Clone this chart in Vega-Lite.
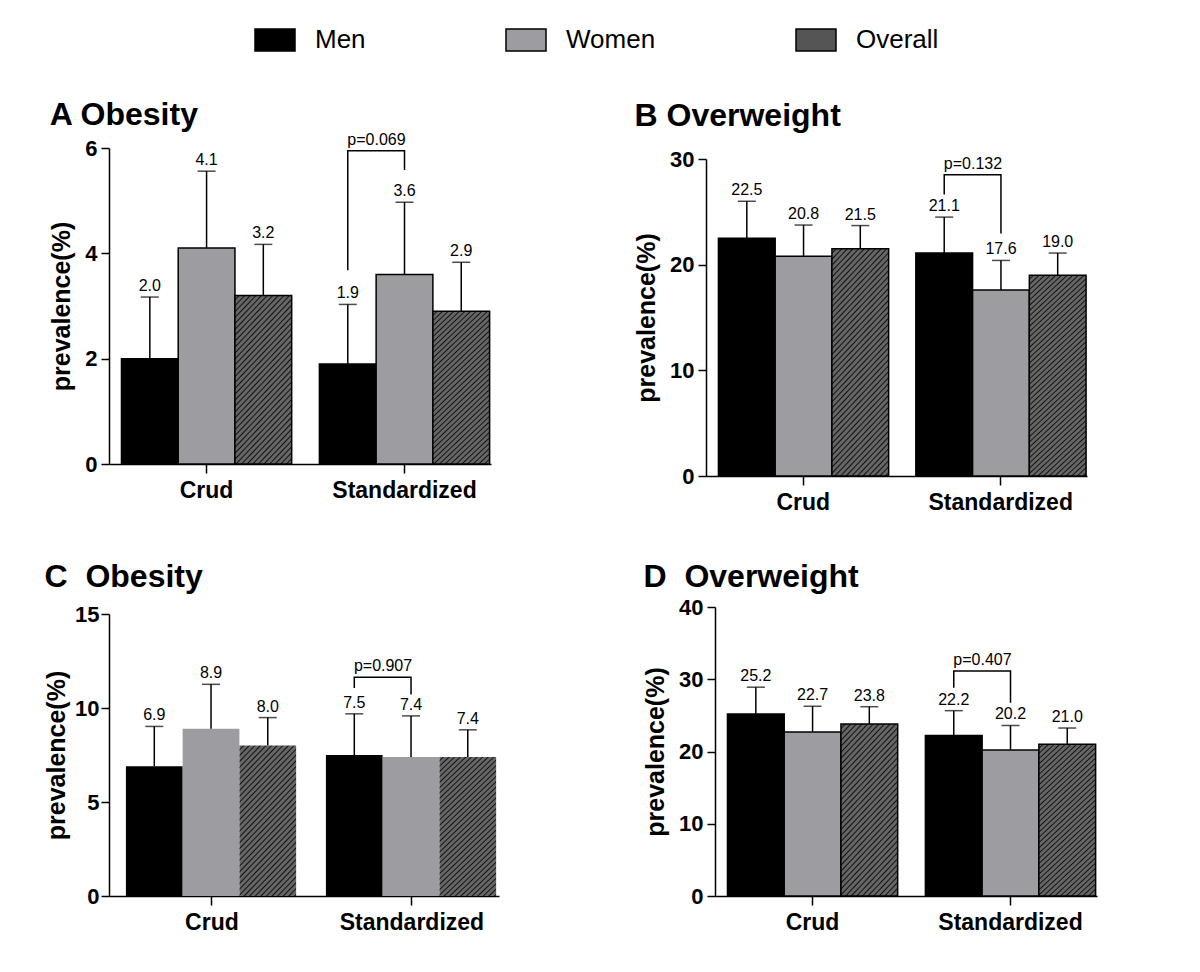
{
"$schema":"https://vega.github.io/schema/vega-lite/v6.json",
"background":"white",
"padding":{"left":44,"top":19,"right":5,"bottom":5},
"config":{
 "font":"Liberation Sans",
 "view":{"stroke":null},
 "axis":{"domainColor":"#000","domainWidth":1.5,"tickColor":"#000","tickWidth":1.5,"tickSize":8,"labelFont":"Liberation Sans","labelFontWeight":"bold","labelFontSize":22,"labelColor":"#000","titleFont":"Liberation Sans","titleFontWeight":"bold","titleColor":"#000","grid":false},
 "axisY":{"titleFontSize":25,"titlePadding":10,"labelPadding":4},
 "axisX":{"labelAngle":0,"labelFontSize":23,"labelPadding":6,"tickSize":9},
 "title":{"font":"Liberation Sans","fontSize":32,"fontWeight":"bold","anchor":"start","color":"#000","frame":"bounds"}
},
"spacing":47,
"vconcat":[
{"spacing":143,"hconcat":[
{
 "width":382,"height":316,
 "title":{"text":"A Obesity","offset":0},
 "data":{"values":[
  {"group":"Crud","sex":"Men","value":2.0,"upper":3.17},
  {"group":"Crud","sex":"Women","value":4.1,"upper":5.56},
  {"group":"Crud","sex":"Overall","value":3.2,"upper":4.17},
  {"group":"Standardized","sex":"Men","value":1.9,"upper":3.03},
  {"group":"Standardized","sex":"Women","value":3.6,"upper":4.97},
  {"group":"Standardized","sex":"Overall","value":2.9,"upper":3.83}
 ]},
 "encoding":{
  "x":{"field":"group","type":"nominal","sort":["Crud","Standardized"],"title":null,"scale":{"paddingInner":0.14,"paddingOuter":0.035,"align":0.9}},
  "xOffset":{"field":"sex","type":"nominal","sort":["Men","Women","Overall"]}
 },
 "layer":[
  {"mark":{"type":"bar","stroke":"#000","strokeWidth":1.5},
   "encoding":{
    "y":{"field":"value","type":"quantitative","title":"prevalence(%)","scale":{"domain":[0,6],"nice":false},"axis":{"values":[0,2,4,6]}},
    "fill":{"field":"sex","type":"nominal","sort":["Men","Women","Overall"],
     "scale":{"domain":["Men","Women","Overall"],"range":["#000000","#9d9da1","#555555"]},
     "legend":{"orient":"none","legendX":145,"legendY":-129,"direction":"horizontal","title":null,
      "symbolType":"M-1,-0.55H1V0.55H-1Z","symbolSize":1600,"symbolStrokeColor":"#000","symbolStrokeWidth":1.5,
      "labelFont":"Liberation Sans","labelFontSize":26,"labelColor":"#000","labelOffset":19,"columnPadding":137},
     "condition":{"test":"datum.sex === 'Overall'","value":{"gradient":"linear","x1":0,"y1":0,"x2":0.551,"y2":1.555,"stops":[
{"offset":0,"color":"#666"},
{"offset":0.01,"color":"#666"},{"offset":0.015,"color":"#111"},{"offset":0.02,"color":"#666"},
{"offset":0.03,"color":"#666"},{"offset":0.035,"color":"#111"},{"offset":0.04,"color":"#666"},
{"offset":0.05,"color":"#666"},{"offset":0.055,"color":"#111"},{"offset":0.06,"color":"#666"},
{"offset":0.07,"color":"#666"},{"offset":0.075,"color":"#111"},{"offset":0.08,"color":"#666"},
{"offset":0.09,"color":"#666"},{"offset":0.095,"color":"#111"},{"offset":0.1,"color":"#666"},
{"offset":0.11,"color":"#666"},{"offset":0.115,"color":"#111"},{"offset":0.12,"color":"#666"},
{"offset":0.13,"color":"#666"},{"offset":0.135,"color":"#111"},{"offset":0.14,"color":"#666"},
{"offset":0.15,"color":"#666"},{"offset":0.155,"color":"#111"},{"offset":0.16,"color":"#666"},
{"offset":0.17,"color":"#666"},{"offset":0.175,"color":"#111"},{"offset":0.18,"color":"#666"},
{"offset":0.19,"color":"#666"},{"offset":0.195,"color":"#111"},{"offset":0.2,"color":"#666"},
{"offset":0.21,"color":"#666"},{"offset":0.215,"color":"#111"},{"offset":0.22,"color":"#666"},
{"offset":0.23,"color":"#666"},{"offset":0.235,"color":"#111"},{"offset":0.24,"color":"#666"},
{"offset":0.25,"color":"#666"},{"offset":0.255,"color":"#111"},{"offset":0.26,"color":"#666"},
{"offset":0.27,"color":"#666"},{"offset":0.275,"color":"#111"},{"offset":0.28,"color":"#666"},
{"offset":0.29,"color":"#666"},{"offset":0.295,"color":"#111"},{"offset":0.3,"color":"#666"},
{"offset":0.31,"color":"#666"},{"offset":0.315,"color":"#111"},{"offset":0.32,"color":"#666"},
{"offset":0.33,"color":"#666"},{"offset":0.335,"color":"#111"},{"offset":0.34,"color":"#666"},
{"offset":0.35,"color":"#666"},{"offset":0.355,"color":"#111"},{"offset":0.36,"color":"#666"},
{"offset":0.37,"color":"#666"},{"offset":0.375,"color":"#111"},{"offset":0.38,"color":"#666"},
{"offset":0.39,"color":"#666"},{"offset":0.395,"color":"#111"},{"offset":0.4,"color":"#666"},
{"offset":0.41,"color":"#666"},{"offset":0.415,"color":"#111"},{"offset":0.42,"color":"#666"},
{"offset":0.43,"color":"#666"},{"offset":0.435,"color":"#111"},{"offset":0.44,"color":"#666"},
{"offset":0.45,"color":"#666"},{"offset":0.455,"color":"#111"},{"offset":0.46,"color":"#666"},
{"offset":0.47,"color":"#666"},{"offset":0.475,"color":"#111"},{"offset":0.48,"color":"#666"},
{"offset":0.49,"color":"#666"},{"offset":0.495,"color":"#111"},{"offset":0.5,"color":"#666"},
{"offset":0.51,"color":"#666"},{"offset":0.515,"color":"#111"},{"offset":0.52,"color":"#666"},
{"offset":0.53,"color":"#666"},{"offset":0.535,"color":"#111"},{"offset":0.54,"color":"#666"},
{"offset":0.55,"color":"#666"},{"offset":0.555,"color":"#111"},{"offset":0.56,"color":"#666"},
{"offset":0.57,"color":"#666"},{"offset":0.575,"color":"#111"},{"offset":0.58,"color":"#666"},
{"offset":0.59,"color":"#666"},{"offset":0.595,"color":"#111"},{"offset":0.6,"color":"#666"},
{"offset":0.61,"color":"#666"},{"offset":0.615,"color":"#111"},{"offset":0.62,"color":"#666"},
{"offset":0.63,"color":"#666"},{"offset":0.635,"color":"#111"},{"offset":0.64,"color":"#666"},
{"offset":0.65,"color":"#666"},{"offset":0.655,"color":"#111"},{"offset":0.66,"color":"#666"},
{"offset":0.67,"color":"#666"},{"offset":0.675,"color":"#111"},{"offset":0.68,"color":"#666"},
{"offset":0.69,"color":"#666"},{"offset":0.695,"color":"#111"},{"offset":0.7,"color":"#666"},
{"offset":0.71,"color":"#666"},{"offset":0.715,"color":"#111"},{"offset":0.72,"color":"#666"},
{"offset":0.73,"color":"#666"},{"offset":0.735,"color":"#111"},{"offset":0.74,"color":"#666"},
{"offset":0.75,"color":"#666"},{"offset":0.755,"color":"#111"},{"offset":0.76,"color":"#666"},
{"offset":0.77,"color":"#666"},{"offset":0.775,"color":"#111"},{"offset":0.78,"color":"#666"}
]}}}
   }},
  {"mark":{"type":"rule","color":"#000","strokeWidth":1.5},"encoding":{"y":{"field":"value","type":"quantitative","title":"prevalence(%)"},"y2":{"field":"upper"}}},
  {"mark":{"type":"tick","color":"#000","size":18,"thickness":1.5},"encoding":{"y":{"field":"upper","type":"quantitative","title":"prevalence(%)"}}},
  {"mark":{"type":"text","baseline":"bottom","dy":-3,"fontSize":16,"color":"#000"},"encoding":{"y":{"field":"upper","type":"quantitative","title":"prevalence(%)"},"text":{"field":"value","type":"quantitative","format":".1f"}}},
  {"data":{"values":[
    {"group":"Standardized","sex":"Men","value":3.68,"ord":1},
    {"group":"Standardized","sex":"Men","value":5.95,"ord":2},
    {"group":"Standardized","sex":"Women","value":5.95,"ord":3},
    {"group":"Standardized","sex":"Women","value":5.58,"ord":4}]},
   "mark":{"type":"line","color":"#000","strokeWidth":1.5},
   "encoding":{"y":{"field":"value","type":"quantitative","title":"prevalence(%)"},"order":{"field":"ord","type":"quantitative"}}},
  {"data":{"values":[{"group":"Standardized","sex":"Women","value":5.95,"label":"p=0.069"}]},
   "mark":{"type":"text","baseline":"bottom","dy":-3,"dx":-28,"fontSize":16,"color":"#000"},
   "encoding":{"y":{"field":"value","type":"quantitative","title":"prevalence(%)"},"text":{"field":"label"}}}
 ]
},
{
 "width":381,"height":328,
 "title":{"text":"B Overweight","offset":15},
 "data":{"values":[
  {"group":"Crud","sex":"Men","value":22.5,"upper":26.0},
  {"group":"Crud","sex":"Women","value":20.8,"upper":23.75},
  {"group":"Crud","sex":"Overall","value":21.5,"upper":23.7},
  {"group":"Standardized","sex":"Men","value":21.1,"upper":24.5},
  {"group":"Standardized","sex":"Women","value":17.6,"upper":20.4},
  {"group":"Standardized","sex":"Overall","value":19.0,"upper":21.1}
 ]},
 "encoding":{
  "x":{"field":"group","type":"nominal","sort":["Crud","Standardized"],"title":null,"scale":{"paddingInner":0.14,"paddingOuter":0.035,"align":0.9}},
  "xOffset":{"field":"sex","type":"nominal","sort":["Men","Women","Overall"]}
 },
 "layer":[
  {"mark":{"type":"bar","stroke":"#000","strokeWidth":1.5},
   "encoding":{
    "y":{"field":"value","type":"quantitative","title":"prevalence(%)","scale":{"domain":[0,30],"nice":false,"range":[328,11]},"axis":{"values":[0,10,20,30]}},
    "fill":{"field":"sex","type":"nominal","sort":["Men","Women","Overall"],
     "scale":{"domain":["Men","Women","Overall"],"range":["#000000","#9d9da1","#555555"]},
     "condition":{"test":"datum.sex === 'Overall'","value":{"gradient":"linear","x1":0,"y1":0,"x2":0.3234,"y2":1.2229,"stops":[
{"offset":0,"color":"#666"},
{"offset":0.01,"color":"#666"},{"offset":0.015,"color":"#111"},{"offset":0.02,"color":"#666"},
{"offset":0.03,"color":"#666"},{"offset":0.035,"color":"#111"},{"offset":0.04,"color":"#666"},
{"offset":0.05,"color":"#666"},{"offset":0.055,"color":"#111"},{"offset":0.06,"color":"#666"},
{"offset":0.07,"color":"#666"},{"offset":0.075,"color":"#111"},{"offset":0.08,"color":"#666"},
{"offset":0.09,"color":"#666"},{"offset":0.095,"color":"#111"},{"offset":0.1,"color":"#666"},
{"offset":0.11,"color":"#666"},{"offset":0.115,"color":"#111"},{"offset":0.12,"color":"#666"},
{"offset":0.13,"color":"#666"},{"offset":0.135,"color":"#111"},{"offset":0.14,"color":"#666"},
{"offset":0.15,"color":"#666"},{"offset":0.155,"color":"#111"},{"offset":0.16,"color":"#666"},
{"offset":0.17,"color":"#666"},{"offset":0.175,"color":"#111"},{"offset":0.18,"color":"#666"},
{"offset":0.19,"color":"#666"},{"offset":0.195,"color":"#111"},{"offset":0.2,"color":"#666"},
{"offset":0.21,"color":"#666"},{"offset":0.215,"color":"#111"},{"offset":0.22,"color":"#666"},
{"offset":0.23,"color":"#666"},{"offset":0.235,"color":"#111"},{"offset":0.24,"color":"#666"},
{"offset":0.25,"color":"#666"},{"offset":0.255,"color":"#111"},{"offset":0.26,"color":"#666"},
{"offset":0.27,"color":"#666"},{"offset":0.275,"color":"#111"},{"offset":0.28,"color":"#666"},
{"offset":0.29,"color":"#666"},{"offset":0.295,"color":"#111"},{"offset":0.3,"color":"#666"},
{"offset":0.31,"color":"#666"},{"offset":0.315,"color":"#111"},{"offset":0.32,"color":"#666"},
{"offset":0.33,"color":"#666"},{"offset":0.335,"color":"#111"},{"offset":0.34,"color":"#666"},
{"offset":0.35,"color":"#666"},{"offset":0.355,"color":"#111"},{"offset":0.36,"color":"#666"},
{"offset":0.37,"color":"#666"},{"offset":0.375,"color":"#111"},{"offset":0.38,"color":"#666"},
{"offset":0.39,"color":"#666"},{"offset":0.395,"color":"#111"},{"offset":0.4,"color":"#666"},
{"offset":0.41,"color":"#666"},{"offset":0.415,"color":"#111"},{"offset":0.42,"color":"#666"},
{"offset":0.43,"color":"#666"},{"offset":0.435,"color":"#111"},{"offset":0.44,"color":"#666"},
{"offset":0.45,"color":"#666"},{"offset":0.455,"color":"#111"},{"offset":0.46,"color":"#666"},
{"offset":0.47,"color":"#666"},{"offset":0.475,"color":"#111"},{"offset":0.48,"color":"#666"},
{"offset":0.49,"color":"#666"},{"offset":0.495,"color":"#111"},{"offset":0.5,"color":"#666"},
{"offset":0.51,"color":"#666"},{"offset":0.515,"color":"#111"},{"offset":0.52,"color":"#666"},
{"offset":0.53,"color":"#666"},{"offset":0.535,"color":"#111"},{"offset":0.54,"color":"#666"},
{"offset":0.55,"color":"#666"},{"offset":0.555,"color":"#111"},{"offset":0.56,"color":"#666"},
{"offset":0.57,"color":"#666"},{"offset":0.575,"color":"#111"},{"offset":0.58,"color":"#666"},
{"offset":0.59,"color":"#666"},{"offset":0.595,"color":"#111"},{"offset":0.6,"color":"#666"},
{"offset":0.61,"color":"#666"},{"offset":0.615,"color":"#111"},{"offset":0.62,"color":"#666"},
{"offset":0.63,"color":"#666"},{"offset":0.635,"color":"#111"},{"offset":0.64,"color":"#666"},
{"offset":0.65,"color":"#666"},{"offset":0.655,"color":"#111"},{"offset":0.66,"color":"#666"},
{"offset":0.67,"color":"#666"},{"offset":0.675,"color":"#111"},{"offset":0.68,"color":"#666"},
{"offset":0.69,"color":"#666"},{"offset":0.695,"color":"#111"},{"offset":0.7,"color":"#666"},
{"offset":0.71,"color":"#666"},{"offset":0.715,"color":"#111"},{"offset":0.72,"color":"#666"},
{"offset":0.73,"color":"#666"},{"offset":0.735,"color":"#111"},{"offset":0.74,"color":"#666"},
{"offset":0.75,"color":"#666"},{"offset":0.755,"color":"#111"},{"offset":0.76,"color":"#666"},
{"offset":0.77,"color":"#666"},{"offset":0.775,"color":"#111"},{"offset":0.78,"color":"#666"},
{"offset":0.79,"color":"#666"},{"offset":0.795,"color":"#111"},{"offset":0.8,"color":"#666"},
{"offset":0.81,"color":"#666"},{"offset":0.815,"color":"#111"},{"offset":0.82,"color":"#666"},
{"offset":0.83,"color":"#666"},{"offset":0.835,"color":"#111"},{"offset":0.84,"color":"#666"},
{"offset":0.85,"color":"#666"},{"offset":0.855,"color":"#111"},{"offset":0.86,"color":"#666"},
{"offset":0.87,"color":"#666"},{"offset":0.875,"color":"#111"},{"offset":0.88,"color":"#666"},
{"offset":0.89,"color":"#666"},{"offset":0.895,"color":"#111"},{"offset":0.9,"color":"#666"},
{"offset":0.91,"color":"#666"},{"offset":0.915,"color":"#111"},{"offset":0.92,"color":"#666"},
{"offset":0.93,"color":"#666"},{"offset":0.935,"color":"#111"},{"offset":0.94,"color":"#666"},
{"offset":0.95,"color":"#666"},{"offset":0.955,"color":"#111"},{"offset":0.96,"color":"#666"},
{"offset":0.97,"color":"#666"},{"offset":0.975,"color":"#111"},{"offset":0.98,"color":"#666"}
]}}}
   }},
  {"mark":{"type":"rule","color":"#000","strokeWidth":1.5},"encoding":{"y":{"field":"value","type":"quantitative","title":"prevalence(%)"},"y2":{"field":"upper"}}},
  {"mark":{"type":"tick","color":"#000","size":18,"thickness":1.5},"encoding":{"y":{"field":"upper","type":"quantitative","title":"prevalence(%)"}}},
  {"mark":{"type":"text","baseline":"bottom","dy":-3,"fontSize":16,"color":"#000"},"encoding":{"y":{"field":"upper","type":"quantitative","title":"prevalence(%)"},"text":{"field":"value","type":"quantitative","format":".1f"}}},
  {"data":{"values":[
    {"group":"Standardized","sex":"Men","value":26.65,"ord":1},
    {"group":"Standardized","sex":"Men","value":28.5,"ord":2},
    {"group":"Standardized","sex":"Women","value":28.5,"ord":3},
    {"group":"Standardized","sex":"Women","value":22.96,"ord":4}]},
   "mark":{"type":"line","color":"#000","strokeWidth":1.5},
   "encoding":{"y":{"field":"value","type":"quantitative","title":"prevalence(%)"},"order":{"field":"ord","type":"quantitative"}}},
  {"data":{"values":[{"group":"Standardized","sex":"Women","value":28.5,"label":"p=0.132"}]},
   "mark":{"type":"text","baseline":"bottom","dy":-3,"dx":-28,"fontSize":16,"color":"#000"},
   "encoding":{"y":{"field":"value","type":"quantitative","title":"prevalence(%)"},"text":{"field":"label"}}}
 ]
}
]},
{"spacing":144,"hconcat":[
{
 "width":390,"height":289,
 "title":{"text":"C\u00a0 Obesity","offset":9},
 "data":{"values":[
  {"group":"Crud","sex":"Men","value":6.9,"upper":9.02},
  {"group":"Crud","sex":"Women","value":8.9,"upper":11.26},
  {"group":"Crud","sex":"Overall","value":8.0,"upper":9.49},
  {"group":"Standardized","sex":"Men","value":7.5,"upper":9.69},
  {"group":"Standardized","sex":"Women","value":7.4,"upper":9.58},
  {"group":"Standardized","sex":"Overall","value":7.4,"upper":8.84}
 ]},
 "encoding":{
  "x":{"field":"group","type":"nominal","sort":["Crud","Standardized"],"title":null,"scale":{"paddingInner":0.14,"paddingOuter":0.045,"align":0.94}},
  "xOffset":{"field":"sex","type":"nominal","sort":["Men","Women","Overall"]}
 },
 "layer":[
  {"mark":{"type":"bar","strokeWidth":0},
   "encoding":{
    "y":{"field":"value","type":"quantitative","title":"prevalence(%)","scale":{"domain":[0,15],"nice":false,"range":[289,7]},"axis":{"values":[0,5,10,15],"labelPadding":2,"titlePadding":5}},
    "fill":{"field":"sex","type":"nominal","sort":["Men","Women","Overall"],
     "scale":{"domain":["Men","Women","Overall"],"range":["#000000","#9d9da1","#555555"]},
     "condition":{"test":"datum.sex === 'Overall'","value":{"gradient":"linear","x1":0,"y1":0,"x2":0.655,"y2":1.674,"stops":[
{"offset":0,"color":"#666"},
{"offset":0.01,"color":"#666"},{"offset":0.015,"color":"#111"},{"offset":0.02,"color":"#666"},
{"offset":0.03,"color":"#666"},{"offset":0.035,"color":"#111"},{"offset":0.04,"color":"#666"},
{"offset":0.05,"color":"#666"},{"offset":0.055,"color":"#111"},{"offset":0.06,"color":"#666"},
{"offset":0.07,"color":"#666"},{"offset":0.075,"color":"#111"},{"offset":0.08,"color":"#666"},
{"offset":0.09,"color":"#666"},{"offset":0.095,"color":"#111"},{"offset":0.1,"color":"#666"},
{"offset":0.11,"color":"#666"},{"offset":0.115,"color":"#111"},{"offset":0.12,"color":"#666"},
{"offset":0.13,"color":"#666"},{"offset":0.135,"color":"#111"},{"offset":0.14,"color":"#666"},
{"offset":0.15,"color":"#666"},{"offset":0.155,"color":"#111"},{"offset":0.16,"color":"#666"},
{"offset":0.17,"color":"#666"},{"offset":0.175,"color":"#111"},{"offset":0.18,"color":"#666"},
{"offset":0.19,"color":"#666"},{"offset":0.195,"color":"#111"},{"offset":0.2,"color":"#666"},
{"offset":0.21,"color":"#666"},{"offset":0.215,"color":"#111"},{"offset":0.22,"color":"#666"},
{"offset":0.23,"color":"#666"},{"offset":0.235,"color":"#111"},{"offset":0.24,"color":"#666"},
{"offset":0.25,"color":"#666"},{"offset":0.255,"color":"#111"},{"offset":0.26,"color":"#666"},
{"offset":0.27,"color":"#666"},{"offset":0.275,"color":"#111"},{"offset":0.28,"color":"#666"},
{"offset":0.29,"color":"#666"},{"offset":0.295,"color":"#111"},{"offset":0.3,"color":"#666"},
{"offset":0.31,"color":"#666"},{"offset":0.315,"color":"#111"},{"offset":0.32,"color":"#666"},
{"offset":0.33,"color":"#666"},{"offset":0.335,"color":"#111"},{"offset":0.34,"color":"#666"},
{"offset":0.35,"color":"#666"},{"offset":0.355,"color":"#111"},{"offset":0.36,"color":"#666"},
{"offset":0.37,"color":"#666"},{"offset":0.375,"color":"#111"},{"offset":0.38,"color":"#666"},
{"offset":0.39,"color":"#666"},{"offset":0.395,"color":"#111"},{"offset":0.4,"color":"#666"},
{"offset":0.41,"color":"#666"},{"offset":0.415,"color":"#111"},{"offset":0.42,"color":"#666"},
{"offset":0.43,"color":"#666"},{"offset":0.435,"color":"#111"},{"offset":0.44,"color":"#666"},
{"offset":0.45,"color":"#666"},{"offset":0.455,"color":"#111"},{"offset":0.46,"color":"#666"},
{"offset":0.47,"color":"#666"},{"offset":0.475,"color":"#111"},{"offset":0.48,"color":"#666"},
{"offset":0.49,"color":"#666"},{"offset":0.495,"color":"#111"},{"offset":0.5,"color":"#666"},
{"offset":0.51,"color":"#666"},{"offset":0.515,"color":"#111"},{"offset":0.52,"color":"#666"},
{"offset":0.53,"color":"#666"},{"offset":0.535,"color":"#111"},{"offset":0.54,"color":"#666"},
{"offset":0.55,"color":"#666"},{"offset":0.555,"color":"#111"},{"offset":0.56,"color":"#666"},
{"offset":0.57,"color":"#666"},{"offset":0.575,"color":"#111"},{"offset":0.58,"color":"#666"},
{"offset":0.59,"color":"#666"},{"offset":0.595,"color":"#111"},{"offset":0.6,"color":"#666"},
{"offset":0.61,"color":"#666"},{"offset":0.615,"color":"#111"},{"offset":0.62,"color":"#666"},
{"offset":0.63,"color":"#666"},{"offset":0.635,"color":"#111"},{"offset":0.64,"color":"#666"},
{"offset":0.65,"color":"#666"},{"offset":0.655,"color":"#111"},{"offset":0.66,"color":"#666"},
{"offset":0.67,"color":"#666"},{"offset":0.675,"color":"#111"},{"offset":0.68,"color":"#666"},
{"offset":0.69,"color":"#666"},{"offset":0.695,"color":"#111"},{"offset":0.7,"color":"#666"},
{"offset":0.71,"color":"#666"},{"offset":0.715,"color":"#111"},{"offset":0.72,"color":"#666"},
{"offset":0.73,"color":"#666"},{"offset":0.735,"color":"#111"},{"offset":0.74,"color":"#666"}
]}}}
   }},
  {"mark":{"type":"rule","color":"#000","strokeWidth":1.5},"encoding":{"y":{"field":"value","type":"quantitative","title":"prevalence(%)"},"y2":{"field":"upper"}}},
  {"mark":{"type":"tick","color":"#000","size":18,"thickness":1.5},"encoding":{"y":{"field":"upper","type":"quantitative","title":"prevalence(%)"}}},
  {"mark":{"type":"text","baseline":"bottom","dy":-3,"fontSize":16,"color":"#000"},"encoding":{"y":{"field":"upper","type":"quantitative","title":"prevalence(%)"},"text":{"field":"value","type":"quantitative","format":".1f"}}},
  {"data":{"values":[
    {"group":"Standardized","sex":"Men","value":11.07,"ord":1},
    {"group":"Standardized","sex":"Men","value":11.64,"ord":2},
    {"group":"Standardized","sex":"Women","value":11.64,"ord":3},
    {"group":"Standardized","sex":"Women","value":10.72,"ord":4}]},
   "mark":{"type":"line","color":"#000","strokeWidth":1.5},
   "encoding":{"y":{"field":"value","type":"quantitative","title":"prevalence(%)"},"order":{"field":"ord","type":"quantitative"}}},
  {"data":{"values":[{"group":"Standardized","sex":"Women","value":11.64,"label":"p=0.907"}]},
   "mark":{"type":"text","baseline":"bottom","dy":-3,"dx":-28,"fontSize":16,"color":"#000"},
   "encoding":{"y":{"field":"value","type":"quantitative","title":"prevalence(%)"},"text":{"field":"label"}}}
 ]
},
{
 "width":382,"height":289,
 "title":{"text":"D\u00a0 Overweight","offset":2},
 "data":{"values":[
  {"group":"Crud","sex":"Men","value":25.2,"upper":28.9},
  {"group":"Crud","sex":"Women","value":22.7,"upper":26.26},
  {"group":"Crud","sex":"Overall","value":23.8,"upper":26.2},
  {"group":"Standardized","sex":"Men","value":22.2,"upper":25.65},
  {"group":"Standardized","sex":"Women","value":20.2,"upper":23.6},
  {"group":"Standardized","sex":"Overall","value":21.0,"upper":23.25}
 ]},
 "encoding":{
  "x":{"field":"group","type":"nominal","sort":["Crud","Standardized"],"title":null,"scale":{"paddingInner":0.14,"paddingOuter":0.035,"align":0.9}},
  "xOffset":{"field":"sex","type":"nominal","sort":["Men","Women","Overall"]}
 },
 "layer":[
  {"mark":{"type":"bar","stroke":"#000","strokeWidth":1.5},
   "encoding":{
    "y":{"field":"value","type":"quantitative","title":"prevalence(%)","scale":{"domain":[0,40],"nice":false},"axis":{"values":[0,10,20,30,40]}},
    "fill":{"field":"sex","type":"nominal","sort":["Men","Women","Overall"],
     "scale":{"domain":["Men","Women","Overall"],"range":["#000000","#9d9da1","#555555"]},
     "condition":{"test":"datum.sex === 'Overall'","value":{"gradient":"linear","x1":0,"y1":0,"x2":0.539,"y2":1.54,"stops":[
{"offset":0,"color":"#666"},
{"offset":0.01,"color":"#666"},{"offset":0.015,"color":"#111"},{"offset":0.02,"color":"#666"},
{"offset":0.03,"color":"#666"},{"offset":0.035,"color":"#111"},{"offset":0.04,"color":"#666"},
{"offset":0.05,"color":"#666"},{"offset":0.055,"color":"#111"},{"offset":0.06,"color":"#666"},
{"offset":0.07,"color":"#666"},{"offset":0.075,"color":"#111"},{"offset":0.08,"color":"#666"},
{"offset":0.09,"color":"#666"},{"offset":0.095,"color":"#111"},{"offset":0.1,"color":"#666"},
{"offset":0.11,"color":"#666"},{"offset":0.115,"color":"#111"},{"offset":0.12,"color":"#666"},
{"offset":0.13,"color":"#666"},{"offset":0.135,"color":"#111"},{"offset":0.14,"color":"#666"},
{"offset":0.15,"color":"#666"},{"offset":0.155,"color":"#111"},{"offset":0.16,"color":"#666"},
{"offset":0.17,"color":"#666"},{"offset":0.175,"color":"#111"},{"offset":0.18,"color":"#666"},
{"offset":0.19,"color":"#666"},{"offset":0.195,"color":"#111"},{"offset":0.2,"color":"#666"},
{"offset":0.21,"color":"#666"},{"offset":0.215,"color":"#111"},{"offset":0.22,"color":"#666"},
{"offset":0.23,"color":"#666"},{"offset":0.235,"color":"#111"},{"offset":0.24,"color":"#666"},
{"offset":0.25,"color":"#666"},{"offset":0.255,"color":"#111"},{"offset":0.26,"color":"#666"},
{"offset":0.27,"color":"#666"},{"offset":0.275,"color":"#111"},{"offset":0.28,"color":"#666"},
{"offset":0.29,"color":"#666"},{"offset":0.295,"color":"#111"},{"offset":0.3,"color":"#666"},
{"offset":0.31,"color":"#666"},{"offset":0.315,"color":"#111"},{"offset":0.32,"color":"#666"},
{"offset":0.33,"color":"#666"},{"offset":0.335,"color":"#111"},{"offset":0.34,"color":"#666"},
{"offset":0.35,"color":"#666"},{"offset":0.355,"color":"#111"},{"offset":0.36,"color":"#666"},
{"offset":0.37,"color":"#666"},{"offset":0.375,"color":"#111"},{"offset":0.38,"color":"#666"},
{"offset":0.39,"color":"#666"},{"offset":0.395,"color":"#111"},{"offset":0.4,"color":"#666"},
{"offset":0.41,"color":"#666"},{"offset":0.415,"color":"#111"},{"offset":0.42,"color":"#666"},
{"offset":0.43,"color":"#666"},{"offset":0.435,"color":"#111"},{"offset":0.44,"color":"#666"},
{"offset":0.45,"color":"#666"},{"offset":0.455,"color":"#111"},{"offset":0.46,"color":"#666"},
{"offset":0.47,"color":"#666"},{"offset":0.475,"color":"#111"},{"offset":0.48,"color":"#666"},
{"offset":0.49,"color":"#666"},{"offset":0.495,"color":"#111"},{"offset":0.5,"color":"#666"},
{"offset":0.51,"color":"#666"},{"offset":0.515,"color":"#111"},{"offset":0.52,"color":"#666"},
{"offset":0.53,"color":"#666"},{"offset":0.535,"color":"#111"},{"offset":0.54,"color":"#666"},
{"offset":0.55,"color":"#666"},{"offset":0.555,"color":"#111"},{"offset":0.56,"color":"#666"},
{"offset":0.57,"color":"#666"},{"offset":0.575,"color":"#111"},{"offset":0.58,"color":"#666"},
{"offset":0.59,"color":"#666"},{"offset":0.595,"color":"#111"},{"offset":0.6,"color":"#666"},
{"offset":0.61,"color":"#666"},{"offset":0.615,"color":"#111"},{"offset":0.62,"color":"#666"},
{"offset":0.63,"color":"#666"},{"offset":0.635,"color":"#111"},{"offset":0.64,"color":"#666"},
{"offset":0.65,"color":"#666"},{"offset":0.655,"color":"#111"},{"offset":0.66,"color":"#666"},
{"offset":0.67,"color":"#666"},{"offset":0.675,"color":"#111"},{"offset":0.68,"color":"#666"},
{"offset":0.69,"color":"#666"},{"offset":0.695,"color":"#111"},{"offset":0.7,"color":"#666"},
{"offset":0.71,"color":"#666"},{"offset":0.715,"color":"#111"},{"offset":0.72,"color":"#666"},
{"offset":0.73,"color":"#666"},{"offset":0.735,"color":"#111"},{"offset":0.74,"color":"#666"},
{"offset":0.75,"color":"#666"},{"offset":0.755,"color":"#111"},{"offset":0.76,"color":"#666"},
{"offset":0.77,"color":"#666"},{"offset":0.775,"color":"#111"},{"offset":0.78,"color":"#666"},
{"offset":0.79,"color":"#666"},{"offset":0.795,"color":"#111"},{"offset":0.8,"color":"#666"}
]}}}
   }},
  {"mark":{"type":"rule","color":"#000","strokeWidth":1.5},"encoding":{"y":{"field":"value","type":"quantitative","title":"prevalence(%)"},"y2":{"field":"upper"}}},
  {"mark":{"type":"tick","color":"#000","size":18,"thickness":1.5},"encoding":{"y":{"field":"upper","type":"quantitative","title":"prevalence(%)"}}},
  {"mark":{"type":"text","baseline":"bottom","dy":-3,"fontSize":16,"color":"#000"},"encoding":{"y":{"field":"upper","type":"quantitative","title":"prevalence(%)"},"text":{"field":"value","type":"quantitative","format":".1f"}}},
  {"data":{"values":[
    {"group":"Standardized","sex":"Men","value":28.83,"ord":1},
    {"group":"Standardized","sex":"Men","value":31.14,"ord":2},
    {"group":"Standardized","sex":"Women","value":31.14,"ord":3},
    {"group":"Standardized","sex":"Women","value":26.75,"ord":4}]},
   "mark":{"type":"line","color":"#000","strokeWidth":1.5},
   "encoding":{"y":{"field":"value","type":"quantitative","title":"prevalence(%)"},"order":{"field":"ord","type":"quantitative"}}},
  {"data":{"values":[{"group":"Standardized","sex":"Women","value":31.14,"label":"p=0.407"}]},
   "mark":{"type":"text","baseline":"bottom","dy":-3,"dx":-28,"fontSize":16,"color":"#000"},
   "encoding":{"y":{"field":"value","type":"quantitative","title":"prevalence(%)"},"text":{"field":"label"}}}
 ]
}
]}
]
}
